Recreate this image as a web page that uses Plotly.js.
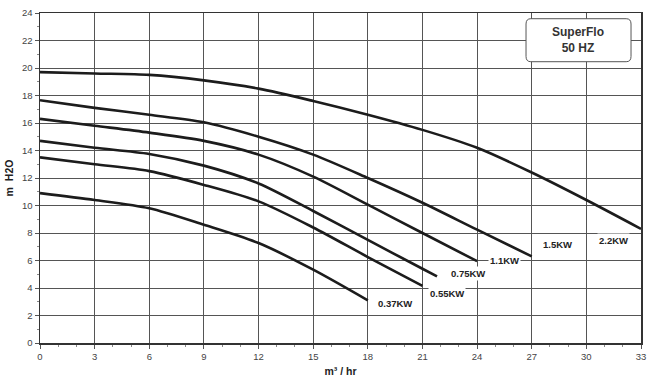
<!DOCTYPE html>
<html>
<head>
<meta charset="utf-8">
<script src="https://cdn.plot.ly/plotly-3.0.1.min.js"></script>
<style>html,body{margin:0;padding:0;background:#fff;}#chart{width:657px;height:384px;}</style>
</head>
<body>
<div id="chart"></div>
<script>
var seriesNames = ["0.37KW", "0.55KW", "0.75KW", "1.1KW", "1.5KW", "2.2KW"];
var x037 = [0, 3, 6, 9, 12, 15, 18];
var y037 = [10.9, 10.4, 9.8, 8.6, 7.27, 5.33, 3.1];
var x055 = [0, 3, 6, 9, 12, 15, 18, 21];
var y055 = [13.5, 13.0, 12.5, 11.5, 10.3, 8.4, 6.25, 4.15];
var x075 = [0, 3, 6, 9, 12, 15, 18, 21, 21.8];
var y075 = [14.7, 14.2, 13.75, 12.9, 11.6, 9.6, 7.5, 5.4, 4.85];
var x11 = [0, 3, 6, 9, 12, 15, 18, 21, 24];
var y11 = [16.3, 15.8, 15.3, 14.7, 13.7, 12.1, 10.06, 8.0, 5.95];
var x15 = [0, 3, 6, 9, 12, 15, 18, 21, 24, 27];
var y15 = [17.65, 17.1, 16.6, 16.05, 15.0, 13.7, 12.0, 10.2, 8.24, 6.3];
var x22 = [0, 3, 6, 9, 12, 15, 18, 21, 24, 27, 30, 33];
var y22 = [19.7, 19.6, 19.5, 19.1, 18.5, 17.6, 16.6, 15.5, 14.2, 12.4, 10.4, 8.3];
var xTicks = [0, 3, 6, 9, 12, 15, 18, 21, 24, 27, 30, 33];
var yTicks = [0, 2, 4, 6, 8, 10, 12, 14, 16, 18, 20, 22, 24];
var labelX = [19.5, 22.35, 23.5, 25.5, 28.4, 31.5];
var labelY = [2.86, 3.6, 5.05, 6.0, 7.15, 7.45];
var boxLines = ["SuperFlo", "50 HZ"];

var xs = [x037, x055, x075, x11, x15, x22];
var ys = [y037, y055, y075, y11, y15, y22];
var traces = xs.map(function (xv, i) {
  return {
    x: xv, y: ys[i], type: 'scatter', mode: 'lines', name: seriesNames[i],
    line: {color: '#1c1c1c', width: 2.6, shape: 'spline', smoothing: 0.8},
    hoverinfo: 'skip', showlegend: false
  };
});

var annotations = seriesNames.map(function (n, i) {
  return {
    x: labelX[i], y: labelY[i], xref: 'x', yref: 'y', text: n, showarrow: false,
    xanchor: 'center', yanchor: 'middle',
    font: {family: 'Liberation Sans, Arial, sans-serif', size: 9.5, color: '#222', weight: 'bold'},
    bgcolor: '#ffffff', borderpad: 1
  };
});
annotations.push({
  x: 0.896, y: 0.918, xref: 'paper', yref: 'paper', showarrow: false,
  xanchor: 'center', yanchor: 'middle',
  text: '<b>' + boxLines.join('<br>') + '</b>',
  font: {family: 'Liberation Sans, Arial, sans-serif', size: 12, color: '#333'},
  align: 'center'
});

var x0 = 0.8087, x1 = 0.9834, y0 = 0.8524, y1 = 0.9827, rx = 0.008, ry = 0.016;
var p = 'M ' + (x0 + rx) + ' ' + y1 + ' L ' + (x1 - rx) + ' ' + y1 +
  ' Q ' + x1 + ' ' + y1 + ' ' + x1 + ' ' + (y1 - ry) +
  ' L ' + x1 + ' ' + (y0 + ry) + ' Q ' + x1 + ' ' + y0 + ' ' + (x1 - rx) + ' ' + y0 +
  ' L ' + (x0 + rx) + ' ' + y0 + ' Q ' + x0 + ' ' + y0 + ' ' + x0 + ' ' + (y0 + ry) +
  ' L ' + x0 + ' ' + (y1 - ry) + ' Q ' + x0 + ' ' + y1 + ' ' + (x0 + rx) + ' ' + y1 + ' Z';

var layout = {
  width: 657, height: 384,
  margin: {l: 40, r: 16, t: 13, b: 41},
  paper_bgcolor: '#ffffff', plot_bgcolor: '#ffffff',
  font: {family: 'Liberation Sans, Arial, sans-serif', size: 9, color: '#444'},
  xaxis: {
    range: [0, 33], tickvals: xTicks, ticktext: xTicks.map(String),
    showgrid: true, gridcolor: '#555', gridwidth: 1,
    showline: true, linecolor: '#333', linewidth: 1.5, mirror: true,
    ticks: 'outside', ticklen: 4, tickcolor: '#555',
    minor: {dtick: 1, ticks: 'outside', ticklen: 2, tickcolor: '#888', showgrid: false},
    zeroline: false, fixedrange: true,
    tickfont: {size: 9.5, color: '#444'},
    title: {text: 'm³ / hr', font: {size: 10.5, color: '#222', weight: 'bold'}, standoff: 6}
  },
  yaxis: {
    range: [0, 24], tickvals: yTicks, ticktext: yTicks.map(String),
    showgrid: true, gridcolor: '#555', gridwidth: 1,
    showline: true, linecolor: '#333', linewidth: 1.5, mirror: true,
    ticks: 'outside', ticklen: 4, tickcolor: '#555',
    minor: {dtick: 1, ticks: 'outside', ticklen: 2, tickcolor: '#888', showgrid: false},
    zeroline: false, fixedrange: true,
    tickfont: {size: 9.5, color: '#444'},
    title: {text: 'm  H2O', font: {size: 10.5, color: '#222', weight: 'bold'}, standoff: 6}
  },
  shapes: [{type: 'path', xref: 'paper', yref: 'paper', path: p,
    fillcolor: '#ffffff', line: {color: '#555', width: 1}, layer: 'above'}],
  annotations: annotations
};

Plotly.newPlot('chart', traces, layout, {displayModeBar: false, staticPlot: true});
</script>
</body>
</html>
